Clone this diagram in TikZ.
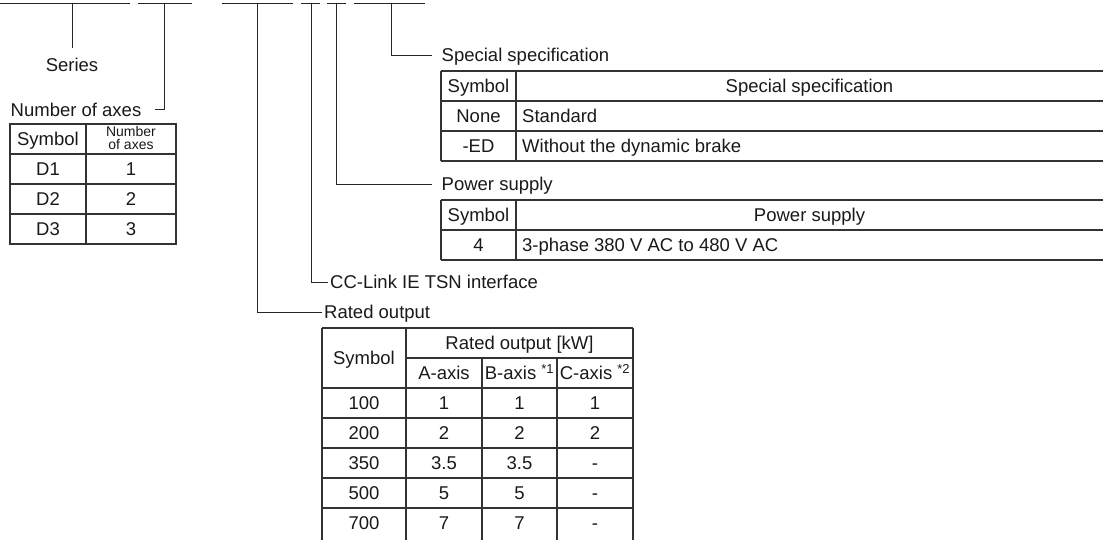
\documentclass[tikz,border=0pt]{standalone}
\usepackage{fontspec}
\setmainfont{Liberation Sans}
\begin{document}
\begin{tikzpicture}[x=1pt,y=-1pt,
  every node/.style={inner sep=0pt, font=\fontsize{18.5}{20}\selectfont, text=black!90},
  seg/.style={line width=1pt, draw=black!85},
  lead/.style={line width=1pt, draw=black!85},
  tbl/.style={line width=1.2pt, draw=black!80},
  lbl/.style={anchor=base west},
  cc/.style={anchor=base},
  cl/.style={anchor=base west},
  smallhd/.style={anchor=base, font=\fontsize{14}{12}\selectfont}
]
\useasboundingbox (0,0) rectangle (1103,539);

% code segments
\foreach \a/\b/\n in {0/130/s1,138/192/s2,222/293/s3,301/320/s4,327/346/s5,354/425/s6}{
  \coordinate (\n a) at (\a,3);
  \coordinate (\n b) at (\b,3);
  \draw[seg] (\n a) -- (\n b);
}

% leader coordinates
\coordinate (tSer) at (72,3);    \coordinate (eSer) at (72,48);
\coordinate (tAx) at (164,3);    \coordinate (eAx) at (155,109);
\coordinate (tRat) at (257,3);   \coordinate (eRat) at (322,312.5);
\coordinate (tCC) at (311,3);    \coordinate (eCC) at (328,282.5);
\coordinate (tPow) at (336.5,3); \coordinate (ePow) at (432,184.5);
\coordinate (tSpe) at (391,3);   \coordinate (eSpe) at (432,55);
\draw[lead] (tSer) -- (eSer);
\draw[lead] (tAx) |- (eAx);
\draw[lead] (tRat) |- (eRat);
\draw[lead] (tCC) |- (eCC);
\draw[lead] (tPow) |- (ePow);
\draw[lead] (tSpe) |- (eSpe);

% labels
\node[cc] (series) at (72,71) {Series};
\node[lbl] (naxes) at (10.5,116.5) {Number of axes};
\node[lbl] (spec) at (441.5,61.5) {Special specification};
\node[lbl] (pow) at (441.5,190.5) {Power supply};
\node[lbl] (ccl) at (330,288.5) {CC-Link IE TSN interface};
\node[lbl] (rated) at (324,318.5) {Rated output};

% Number of axes table
\draw[tbl] (10,124) rectangle (176,244);
\foreach \y in {154,184,214} \draw[tbl] (10,\y) -- (176,\y);
\draw[tbl] (86,124) -- (86,244);
\node[cc] (ahs) at (48,145.5) {Symbol};
\node[smallhd] (ahn1) at (131,136) {Number};
\node[smallhd] (ahn2) at (131,149) {of axes};
\foreach \s/\v [count=\i] in {D1/1,D2/2,D3/3}{
  \node[cc] (as\i) at (48,154+30*\i-8.5) {\s};
  \node[cc] (av\i) at (131,154+30*\i-8.5) {\v};
}

% Special specification table
\foreach \y in {71,101,131,161} \draw[tbl] (441,\y) -- (1110,\y);
\draw[tbl] (441,71) -- (441,161);
\draw[tbl] (516,71) -- (516,161);
\node[cc] (sph1) at (478.5,92.5) {Symbol};
\node[cc] (sph2) at (809.5,92.5) {Special specification};
\node[cc] (sps1) at (478.5,122.5) {None};
\node[cl] (spv1) at (522,122.5) {Standard};
\node[cc] (sps2) at (478.5,152.5) {-ED};
\node[cl] (spv2) at (522,152.5) {Without the dynamic brake};

% Power supply table
\foreach \y in {200,230,260} \draw[tbl] (441,\y) -- (1110,\y);
\draw[tbl] (441,200) -- (441,260);
\draw[tbl] (516,200) -- (516,260);
\node[cc] (pwh1) at (478.5,221.5) {Symbol};
\node[cc] (pwh2) at (809.5,221.5) {Power supply};
\node[cc] (pws1) at (478.5,251.5) {4};
\node[cl] (pwv1) at (522,251.5) {3-phase 380 V AC to 480 V AC};

% Rated output table
\draw[tbl] (322,328) -- (633,328);
\draw[tbl] (406,358) -- (633,358);
\foreach \y in {388,418,448,478,508} \draw[tbl] (322,\y) -- (633,\y);
\draw[tbl] (322,328) -- (322,545);
\draw[tbl] (406,328) -- (406,545);
\draw[tbl] (482,358) -- (482,545);
\draw[tbl] (557,358) -- (557,545);
\draw[tbl] (633,328) -- (633,545);
\node[cc] (rh1) at (364,364) {Symbol};
\node[cc] (rh2) at (519.5,349.5) {Rated output [kW]};
\node[cc] (rhA) at (444,379.5) {A-axis};
\node[cc] (rhB) at (519.5,379.5) {B-axis \textsuperscript{*1}};
\node[cc] (rhC) at (595,379.5) {C-axis \textsuperscript{*2}};
\foreach \s/\a/\b/\c [count=\i] in {100/1/1/1,200/2/2/2,350/3.5/3.5/-,500/5/5/-,700/7/7/-}{
  \node[cc] (rs\i) at (364,388+30*\i-8.5) {\s};
  \node[cc] (ra\i) at (444,388+30*\i-8.5) {\a};
  \node[cc] (rb\i) at (519.5,388+30*\i-8.5) {\b};
  \node[cc] (rc\i) at (595,388+30*\i-8.5) {\c};
}
\end{tikzpicture}
\end{document}
